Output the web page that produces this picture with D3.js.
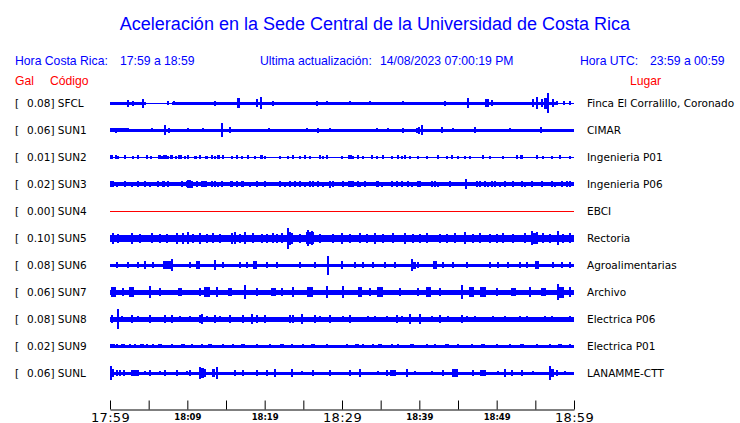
<!DOCTYPE html>
<html><head><meta charset="utf-8">
<script src="https://cdn.jsdelivr.net/npm/d3@7"></script>
<style>body{margin:0;background:#fff;overflow:hidden}</style>
</head><body><svg id="c" width="740" height="423"></svg>
<script>
// ---------------- data ----------------
const stations = ["SFCL","SUN1","SUN2","SUN3","SUN4","SUN5","SUN6","SUN7","SUN8","SUN9","SUNL"];
const peaksGal = [0.08,0.06,0.01,0.02,0.00,0.10,0.08,0.06,0.08,0.02,0.06];
const places = ["Finca El Corralillo, Coronado","CIMAR","Ingenieria P01","Ingenieria P06","EBCI","Rectoria","Agroalimentarias","Archivo","Electrica P06","Electrica P01","LANAMME-CTT"];
const tickMinutes = [0,5,10,15,20,25,30,35,40,45,50,55,60];
const tickLabels = ["17:59","","18:09","","18:19","","18:29","","18:39","","18:49","","18:59"];
const majorLabels = ["17:59","18:29","18:59"];

// background trace level per station: [startMin, endMin, halfAmplitudeGal]
const baseSFCL = [[0,4.7,0.014],[4.7,8.0,0.006],[8.0,57.8,0.014],[57.8,60,0.005]];
const baseSUN1 = [[0,2.5,0.018],[2.5,60,0.015]];
const baseSUN2 = [[0,60,0.005]];
const baseSUN3 = [[0,60,0.017]];
const baseSUN4 = [[0,60,0.0045]];
const baseSUN5 = [[0,60,0.031]];
const baseSUN6 = [[0,60,0.015]];
const baseSUN7 = [[0,60,0.023]];
const baseSUN8 = [[0,60,0.024]];
const baseSUN9 = [[0,60,0.013]];
const baseSUNL = [[0,60,0.015]];

// peaks: [minute, halfAmplitudeGal, durationMin]
const spikesSFCL = [[2.37,0.032],[3.02,0.023],[4.23,0.041,0.3],[7.55,0.018],[8.28,0.018],[13.58,0.023],[16.6,0.045,0.3],[18.97,0.036,0.3],[19.57,0.055],[21.12,0.023],[26.73,0.023],[28.02,0.018],[31.03,0.018],[33.62,0.018],[37.93,0.018],[43.32,0.023],[46.29,0.045,0.3],[48.71,0.036,0.5],[49.35,0.027],[54.65,0.036],[55.17,0.055],[55.82,0.036],[56.4,0.05,0.6],[56.68,0.09],[57.33,0.036],[57.76,0.018],[58.71,0.018],[59.48,0.018]];
const spikesSUN1 = [[0.78,0.023],[2.37,0.018],[5.39,0.018],[7.16,0.045],[7.68,0.023],[10.13,0.018],[12.07,0.018],[14.53,0.064],[15.52,0.027],[20.6,0.018],[25.43,0.018],[26.94,0.023],[28.45,0.018],[34.48,0.018],[35.99,0.018],[37.84,0.023],[39.65,0.023],[39.96,0.032],[40.39,0.045],[42.89,0.027],[44.4,0.018],[47.2,0.027],[51.72,0.018],[55.73,0.027]];
const spikesSUN2 = [[0,0.016,0.4],[0.78,0.018],[1.07,0.014,0.3],[1.94,0.016],[2.94,0.014],[3.66,0.016],[4.74,0.016],[5.26,0.014],[6.38,0.016,0.4],[6.68,0.014],[7.11,0.018,0.4],[7.54,0.014],[7.98,0.016,0.4],[8.53,0.014],[9.05,0.016,0.4],[9.7,0.014],[10.12,0.016],[11.0,0.014,0.4],[11.64,0.016],[12.5,0.014,0.4],[13.15,0.016],[13.58,0.014],[14.01,0.016,0.4],[14.66,0.016],[15.74,0.014],[16.38,0.016],[17.03,0.014],[17.89,0.016],[18.75,0.014],[19.61,0.016,0.4],[20.04,0.014],[21.98,0.014],[23.06,0.014],[23.7,0.016],[24.57,0.014],[25.22,0.016],[25.86,0.014],[27.16,0.016],[27.59,0.014],[28.02,0.016],[29.96,0.014],[31.04,0.016,0.4],[31.46,0.014],[32.11,0.016],[32.76,0.014],[33.84,0.016],[34.49,0.014],[35.34,0.016],[36.43,0.014],[37.28,0.016],[37.72,0.014],[38.15,0.016],[38.79,0.014],[39.87,0.014],[40.95,0.014],[42.46,0.016],[43.54,0.014],[44.18,0.016],[45.04,0.014],[45.9,0.014],[46.55,0.014],[48.27,0.016],[49.13,0.014],[50.85,0.014],[52.58,0.016],[53.22,0.016,0.4],[55.16,0.016],[56.02,0.014],[57.1,0.014],[58.19,0.016],[59.48,0.014]];
const spikesSUN3 = [[0,0.027],[0.43,0.027],[0.86,0.023],[1.94,0.027],[2.8,0.023],[3.66,0.027,0.3],[4.53,0.027],[5.17,0.023],[6.25,0.027],[6.9,0.027,0.4],[7.55,0.027],[9.27,0.027],[9.92,0.027],[10.26,0.036,0.5],[10.56,0.032],[11.21,0.027],[11.86,0.027],[12.29,0.027,0.4],[13.15,0.027],[13.58,0.027],[14.01,0.023],[14.44,0.027],[15.74,0.027,0.4],[16.38,0.027],[17.03,0.027],[17.24,0.027],[18.1,0.023],[18.97,0.027],[20.04,0.027],[21.98,0.027],[22.63,0.023],[23.28,0.027],[23.93,0.027],[24.57,0.027],[25.22,0.023],[25.87,0.027],[26.3,0.027],[26.94,0.027],[27.59,0.023],[28.45,0.032],[28.88,0.027],[30.17,0.027],[31.03,0.027,0.4],[31.46,0.027],[32.11,0.027],[32.33,0.023],[32.97,0.027],[34.48,0.027],[34.7,0.027],[35.13,0.023],[36.42,0.027],[37.07,0.027],[37.71,0.027],[38.58,0.027],[39.01,0.023],[39.87,0.027],[40.08,0.027],[41.59,0.027],[42.02,0.027],[42.46,0.023],[43.96,0.027],[46.03,0.045],[47.41,0.027],[47.84,0.027],[48.49,0.027],[48.92,0.023],[49.35,0.027],[49.78,0.027],[50.43,0.023],[51.08,0.027],[52.15,0.027],[53.23,0.027],[53.66,0.023],[54.52,0.027],[55.82,0.027],[57.11,0.027],[57.54,0.023],[58.4,0.027],[59.05,0.027],[59.48,0.027]];
const spikesSUN4 = [];
const spikesSUN5 = [[0.43,0.05],[1.0,0.04],[2.8,0.05],[3.88,0.04],[5.39,0.045],[6.47,0.04],[7.33,0.04],[8.62,0.05],[9.48,0.05],[10.13,0.055],[10.78,0.04],[11.64,0.05],[12.5,0.04],[13.36,0.045],[14.22,0.04],[15.73,0.05],[16.16,0.055],[16.81,0.04],[17.46,0.055],[18.53,0.045],[19.61,0.04],[20.26,0.04],[21.12,0.045],[21.55,0.04],[22.2,0.045],[22.98,0.095],[23.2,0.06,0.5],[23.49,0.05],[24.57,0.04],[25.65,0.075],[25.9,0.055,1.0],[26.08,0.065],[27.16,0.04],[28.88,0.04],[29.96,0.05],[31.03,0.04],[32.33,0.045],[33.19,0.04],[34.27,0.05],[35.34,0.04],[36.64,0.045],[38.15,0.05],[39.22,0.04],[40.08,0.04],[40.95,0.045],[42.67,0.04],[43.53,0.04],[44.61,0.045],[45.9,0.055],[46.98,0.04],[47.84,0.045],[49.14,0.04],[50.0,0.04],[50.86,0.045],[52.15,0.04],[53.66,0.045],[54.52,0.065],[54.9,0.05,0.6],[55.17,0.055],[56.03,0.045],[56.9,0.04],[57.97,0.065],[58.6,0.04],[59.48,0.045]];
const spikesSUN6 = [[0.86,0.027],[2.37,0.027],[3.66,0.027],[4.53,0.036],[5.6,0.027],[7.4,0.036,1.0],[7.98,0.055],[10.35,0.027],[11.42,0.036,0.5],[13.58,0.045],[14.66,0.027],[16.81,0.027],[17.67,0.027],[18.75,0.036,0.5],[20.26,0.027],[21.55,0.027],[24.57,0.027],[26.51,0.027],[28.23,0.086],[29.96,0.036],[31.68,0.027],[32.76,0.027],[34.05,0.027],[35.56,0.027],[36.85,0.027],[39.01,0.055],[39.3,0.032,0.6],[39.87,0.027],[42.02,0.036,0.5],[43.1,0.027],[44.4,0.027],[46.12,0.027],[49.14,0.027],[50.21,0.027],[51.51,0.027],[53.02,0.027],[53.88,0.027],[55.17,0.036,0.5],[57.33,0.027],[58.4,0.027],[59.48,0.027]];
const spikesSUN7 = [[0.43,0.045,0.6],[1.72,0.036],[2.8,0.045,0.6],[5.17,0.055],[6.47,0.036],[9.05,0.036,0.6],[11.64,0.036],[12.5,0.045,0.8],[13.79,0.045],[15.52,0.036,0.6],[17.46,0.064],[18.97,0.036],[21.12,0.036,0.6],[22.2,0.036],[23.71,0.045],[25.86,0.045,0.8],[28.02,0.055],[30.17,0.055],[32.33,0.045,0.6],[33.62,0.036],[34.91,0.045,0.8],[37.5,0.036],[39.87,0.036],[41.16,0.045,0.6],[42.67,0.036],[45.47,0.064],[46.77,0.045,0.6],[48.27,0.045,0.8],[50.0,0.036],[52.15,0.036,0.6],[54.31,0.045],[56.03,0.036,0.6],[57.97,0.073],[58.4,0.05,0.6],[59.48,0.045]];
const spikesSUN8 = [[0.22,0.036],[0.99,0.09],[1.51,0.027],[2.8,0.036],[3.66,0.027],[5.17,0.036],[7.11,0.036],[7.97,0.036],[9.05,0.027],[10.34,0.027],[11.64,0.036],[11.85,0.045],[12.5,0.027],[13.58,0.036],[14.22,0.027],[15.52,0.036],[17.24,0.036],[18.32,0.045],[18.97,0.036],[20.04,0.036],[23.28,0.036],[23.71,0.036],[24.79,0.045],[26.51,0.036],[27.16,0.027],[28.45,0.036],[30.17,0.027],[31.03,0.036],[33.4,0.027],[34.27,0.027],[35.78,0.027],[37.07,0.036],[37.71,0.027],[38.79,0.045],[40.08,0.045],[41.59,0.027],[42.67,0.036],[43.75,0.027],[45.47,0.036],[46.12,0.027],[47.2,0.027],[49.57,0.027],[51.08,0.027],[53.02,0.027],[53.88,0.027],[56.25,0.027],[57.11,0.027],[59.48,0.027]];
const spikesSUN9 = [[0.22,0.018,0.6],[0.86,0.018],[1.72,0.018,0.5],[2.59,0.018],[3.23,0.018],[4.09,0.018,0.5],[4.74,0.018],[5.6,0.018],[6.47,0.018,0.5],[7.97,0.018],[9.48,0.018,0.5],[10.56,0.018],[11.85,0.018],[12.93,0.018,0.5],[14.66,0.018],[15.95,0.018],[17.24,0.018,0.5],[18.97,0.018],[20.69,0.018],[22.2,0.018,0.5],[23.49,0.018],[25.0,0.018],[26.29,0.018,0.5],[28.02,0.018],[30.6,0.018],[31.9,0.018,0.5],[32.76,0.018],[34.05,0.018],[34.91,0.018,0.5],[36.42,0.018],[37.28,0.018],[39.01,0.018,0.5],[40.95,0.018],[42.02,0.018],[43.53,0.018,0.5],[45.04,0.018],[46.77,0.018],[48.27,0.018,0.5],[50.0,0.018],[51.72,0.018],[53.23,0.018,0.5],[55.17,0.018],[56.9,0.018],[58.19,0.018,0.5],[59.48,0.018]];
const spikesSUNL = [[0.13,0.064],[0.43,0.036],[0.86,0.027],[1.29,0.027],[1.81,0.027],[3.23,0.027,1.0],[4.53,0.018],[5.17,0.027],[6.47,0.018],[7.11,0.027],[8.62,0.027],[9.91,0.018],[10.34,0.027],[11.64,0.055],[11.99,0.045,0.4],[12.29,0.036],[13.36,0.036,0.4],[13.88,0.055],[16.16,0.027],[17.24,0.027],[18.97,0.027],[20.26,0.027],[21.34,0.036],[23.49,0.036],[24.78,0.018],[26.29,0.027],[28.45,0.027],[31.03,0.027],[32.33,0.036],[34.7,0.018],[35.77,0.027],[36.64,0.027,0.8],[38.36,0.036],[39.44,0.018],[41.59,0.018],[43.1,0.027],[44.61,0.036,0.8],[46.98,0.027],[48.27,0.027,0.8],[50.21,0.018],[51.08,0.036],[51.94,0.027],[53.23,0.027],[54.74,0.018],[56.9,0.064],[57.1,0.036,0.5],[57.76,0.027],[58.84,0.018]];

const traces = [
  {base:baseSFCL, spikes:spikesSFCL},{base:baseSUN1, spikes:spikesSUN1},{base:baseSUN2, spikes:spikesSUN2},
  {base:baseSUN3, spikes:spikesSUN3},{base:baseSUN4, spikes:spikesSUN4},{base:baseSUN5, spikes:spikesSUN5},
  {base:baseSUN6, spikes:spikesSUN6},{base:baseSUN7, spikes:spikesSUN7},{base:baseSUN8, spikes:spikesSUN8},
  {base:baseSUN9, spikes:spikesSUN9},{base:baseSUNL, spikes:spikesSUNL}
];

// ---------------- drawing ----------------
const svg = d3.select("#c");
const BLUE = "#0000ff", RED = "#ff0000";
const SANS = "'Liberation Sans', Arial, Helvetica, sans-serif";
const DJV = "'DejaVu Sans', sans-serif";

svg.append("text").attr("x", 375).attr("y", 30).attr("text-anchor","middle")
  .attr("font-family", SANS).attr("font-size", 18).attr("fill", BLUE)
  .text("Aceleración en la Sede Central de la Universidad de Costa Rica");

const hdr = [
  [15, 65, "Hora Costa Rica:", BLUE],[120, 65, "17:59 a 18:59", BLUE],
  [260, 65, "Ultima actualización:", BLUE],[380, 65, "14/08/2023 07:00:19 PM", BLUE],
  [580, 65, "Hora UTC:", BLUE],[650, 65, "23:59 a 00:59", BLUE],
  [15, 84.5, "Gal", RED],[50, 84.5, "Código", RED],[630, 84.5, "Lugar", RED]
];
svg.selectAll("text.hdr").data(hdr).join("text").attr("class","hdr")
  .attr("x", d=>d[0]).attr("y", d=>d[1]).attr("font-family", SANS).attr("font-size", 12.2)
  .attr("fill", d=>d[3]).text(d=>d[2]);

const x = d3.scaleLinear().domain([0,60]).range([110,574]);
const row = d3.scalePoint().domain(stations).range([103,373]);
const amp = d3.scaleLinear().domain([0,0.1]).range([0,11]);

// station labels
const lab = svg.append("g").attr("font-family", DJV).attr("font-size", 10.5).attr("fill","#000");
lab.selectAll("text.br").data(stations).join("text").attr("class","br")
  .attr("x", 15).attr("y", d=>row(d)+4.3).text("[");
lab.selectAll("text.val").data(stations).join("text").attr("class","val")
  .attr("x", 27).attr("y", d=>row(d)+4.3).text((d,i)=>d3.format(".2f")(peaksGal[i]) + "] " + d);
lab.selectAll("text.pl").data(stations).join("text").attr("class","pl")
  .attr("x", 587).attr("y", d=>row(d)+4.3).text((d,i)=>places[i]);

// traces
const tg = svg.append("g").attr("shape-rendering","crispEdges");
traces.forEach((tr,i)=>{
  const cy = row(stations[i]);
  const color = peaksGal[i] === 0 ? RED : BLUE;
  const g = tg.append("g").attr("fill", color);
  const h = a => Math.max(1, Math.round(2*amp(a)));
  g.selectAll("rect.b").data(tr.base).join("rect").attr("class","b")
    .attr("x", d=>x(d[0])).attr("width", d=>x(d[1])-x(d[0]))
    .attr("y", d=>Math.round(cy - h(d[2])/2)).attr("height", d=>h(d[2]));
  g.selectAll("rect.s").data(tr.spikes).join("rect").attr("class","s")
    .attr("x", d=>{const w=Math.max(2, x(d[2]||0)-x(0)); return Math.max(110, Math.min(574-w, x(d[0]) - w/2));})
    .attr("width", d=>Math.max(2, x(d[2]||0)-x(0)))
    .attr("y", d=>Math.round(cy - h(d[1])/2)).attr("height", d=>h(d[1]));
});

// time axis
const axis = d3.axisBottom(x).tickValues(tickMinutes).tickSizeInner(-9).tickSizeOuter(0)
  .tickPadding(3).tickFormat((d,i)=>tickLabels[i]);
const ag = svg.append("g").attr("transform","translate(0,409.5)").call(axis);
ag.select(".domain").attr("stroke","#000").attr("stroke-width",1);
ag.selectAll(".tick line").attr("stroke","#000");
ag.selectAll(".tick text").attr("fill","#000").attr("dy", null)
  .attr("y", d=>majorLabels.includes(tickLabels[tickMinutes.indexOf(d)]) ? 12 : 10)
  .attr("font-family", DJV)
  .attr("font-weight", d=>majorLabels.includes(tickLabels[tickMinutes.indexOf(d)]) ? "normal" : "bold")
  .attr("font-size", d=>majorLabels.includes(tickLabels[tickMinutes.indexOf(d)]) ? 13 : 8.5)
  .attr("letter-spacing", d=>majorLabels.includes(tickLabels[tickMinutes.indexOf(d)]) ? 0.3 : 0);
</script></body></html>
